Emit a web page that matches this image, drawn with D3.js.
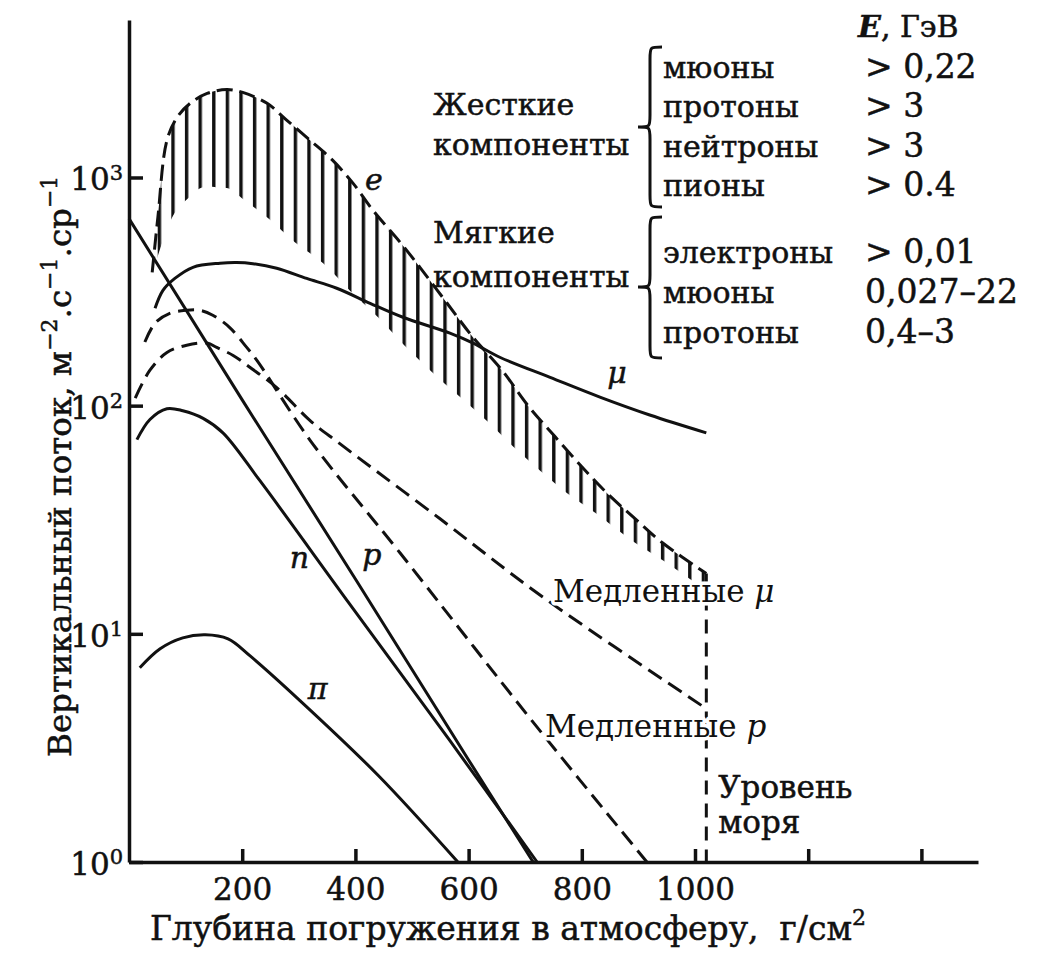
<!DOCTYPE html>
<html>
<head>
<meta charset="utf-8">
<style>
  body { margin: 0; background: #fff; }
  svg { display: block; font-family: 'DejaVu Serif', serif; }
  .axis path, .axis line { stroke: #111; stroke-width: 3.5; }
  .axis .tick text { font-size: 31px; fill: #111; font-family: 'DejaVu Serif', serif; stroke: #111; stroke-width: 0.5; }
  .curve { fill: none; stroke: #111; stroke-width: 3; }
  .dashed { stroke-dasharray: 16 8; }
  .txt { font-size: 30px; fill: #111; stroke: #111; stroke-width: 0.5; }
  .num { font-size: 33px; }
  .halo { paint-order: stroke; stroke: #fff; stroke-width: 7px; stroke-linejoin: round; }
</style>
</head>
<body>
<svg width="1047" height="956"></svg>
<script src="https://cdn.jsdelivr.net/npm/d3@7/dist/d3.min.js"></script>
<script>
// depth in g/cm^2, vertical flux in m^-2 s^-1 sr^-1
const xTicks = [200, 400, 600, 800, 1000, 1200, 1400];
const xTickLabels = ["200", "400", "600", "800", "1000", "", ""];
const yTicks = [1, 10, 100, 1000];
const yTickExp = ["0", "1", "2", "3"];

const seaLevel = 1020;

// electrons: upper (dashed) edge and lower edge of the hatched band
const eUpper = [[41, 384], [51, 668], [67, 1455], [85, 1833], [108, 2113], [138, 2335], [173, 2430],
  [201, 2360], [244, 2113], [279, 1780], [320, 1455], [360, 1188], [396, 942], [431, 718], [479, 520],
  [514, 404], [562, 281], [608, 199], [659, 143], [705, 100], [753, 73], [800, 54], [846, 41],
  [894, 32], [943, 25], [1020, 18.4]];
const eLower = [[42, 384], [78, 682], [104, 809], [129, 905], [155, 905], [175, 896], [200, 809],
  [246, 662], [293, 520], [343, 421], [390, 320], [440, 244], [488, 182], [537, 139], [585, 109],
  [634, 85], [682, 65], [730, 51], [776, 41], [823, 34], [885, 26], [943, 21], [1020, 15.5]];

const muons = [[46, 267], [60, 320], [81, 361], [113, 404], [161, 421], [190, 424], [219, 419],
  [261, 400], [314, 361], [367, 327], [426, 281], [484, 244], [567, 208], [608, 188], [655, 163],
  [744, 133], [832, 109], [920, 91], [1020, 76]];
const protons = [[0, 660], [200, 106], [400, 17.4], [600, 2.8], [714, 1]];
const neutrons = [[14, 71], [37, 87], [67, 97], [95, 95], [131, 88], [166, 76], [231, 47],
  [390, 13.5], [567, 3.4], [721, 1]];
const pions = [[19, 7.1], [55, 8.6], [95, 9.6], [135, 9.9], [175, 9.5], [214, 8.0], [302, 5.1],
  [440, 2.4], [581, 1]];
const slowMu = [[11, 108], [37, 143], [67, 171], [102, 184], [138, 188], [155, 180], [184, 166],
  [214, 147], [261, 120], [320, 86], [373, 68], [549, 32], [731, 14.5], [1020, 4.7]];
const slowP = [[28, 190], [46, 230], [72, 254], [102, 262], [125, 262], [148, 249], [178, 220],
  [208, 180], [226, 158], [320, 70.5], [479, 22.6], [721, 3.9], [915, 1]];

const hardNames = ["мюоны", "протоны", "нейтроны", "пионы"];
const hardE = ["> 0,22", "> 3", "> 3", "> 0.4"];
const softNames = ["электроны", "мюоны", "протоны"];
const softE = ["> 0,01", "0,027–22", "0,4–3"];

const svg = d3.select("svg");

const x = d3.scaleLinear().domain([0, 1500]).range([129, 978]);
const y = d3.scaleLog().domain([1, 4900]).range([862, 20]);

const smooth = d3.curveCatmullRom.alpha(0.5);

// hatch pattern + mask for the electron band
const defs = svg.append("defs");
defs.append("pattern")
    .attr("id", "hatch")
    .attr("patternUnits", "userSpaceOnUse")
    .attr("x", 171.3).attr("y", 0)
    .attr("width", 13.6).attr("height", 20)
  .append("rect")
    .attr("width", 3.4).attr("height", 20)
    .attr("fill", "#111");

const areaDown = d3.area()
    .x(d => x(d[0]))
    .y0(900)
    .y1(d => y(d[1]))
    .curve(smooth);

const mask = defs.append("mask").attr("id", "band");
mask.append("path").attr("d", areaDown(eUpper)).attr("fill", "#fff");
mask.append("path").attr("d", areaDown(eLower)).attr("fill", "#000");

svg.append("rect")
    .attr("x", x(0)).attr("y", 0)
    .attr("width", x(seaLevel) - x(0) + 2).attr("height", 900)
    .attr("fill", "url(#hatch)")
    .attr("mask", "url(#band)");

const line = d3.line()
    .x(d => x(d[0]))
    .y(d => y(d[1]))
    .curve(smooth);
const straight = d3.line()
    .x(d => x(d[0]))
    .y(d => y(d[1]));

svg.append("path").attr("class", "curve").attr("d", line(eUpper)).style("stroke-dasharray", "16 7");
svg.append("path").attr("class", "curve").attr("d", line(muons));
svg.append("path").attr("class", "curve").attr("d", straight(protons));
svg.append("path").attr("class", "curve").attr("d", line(neutrons));
svg.append("path").attr("class", "curve").attr("d", line(pions));
svg.append("path").attr("class", "curve dashed").attr("d", line(slowMu));
svg.append("path").attr("class", "curve dashed").attr("d", line(slowP));

// sea level
svg.append("line")
    .attr("class", "curve")
    .attr("x1", x(seaLevel)).attr("x2", x(seaLevel))
    .attr("y1", y(eUpper[eUpper.length - 1][1])).attr("y2", y(1))
    .style("stroke-dasharray", "14 9");

// axes
svg.append("g")
    .attr("class", "axis")
    .attr("transform", `translate(0,${y(1)})`)
    .call(d3.axisBottom(x).tickValues(xTicks).tickSize(-13).tickSizeOuter(0).tickPadding(16)
        .tickFormat((d, i) => xTickLabels[i]));

const yAxis = svg.append("g")
    .attr("class", "axis")
    .attr("transform", `translate(${x(0)},0)`)
    .call(d3.axisLeft(y).tickValues(yTicks).tickSize(-14).tickSizeOuter(0).tickPadding(6)
        .tickFormat(() => "10"));

yAxis.selectAll(".tick text")
    .attr("dy", "0.4em")
    .each(function (d, i) {
        d3.select(this).append("tspan")
            .attr("dy", "-0.5em")
            .attr("font-size", "21px")
            .text(yTickExp[i]);
    });

// axis titles
const xTitle = svg.append("text")
    .attr("class", "txt")
    .attr("x", 150).attr("y", 940)
    .style("font-size", "33px");
xTitle.append("tspan").text("Глубина погружения в атмосферу,\u00a0\u00a0г/см");
xTitle.append("tspan").attr("dy", -15).attr("font-size", "22px").text("2");

const yTitle = svg.append("text")
    .attr("class", "txt")
    .attr("transform", "translate(71,757) rotate(-90)")
    .style("font-size", "32.5px");
yTitle.append("tspan").text("Вертикальный поток, м");
yTitle.append("tspan").attr("dy", -14).attr("font-size", "22px").text("−2");
yTitle.append("tspan").attr("dy", 14).text(".с");
yTitle.append("tspan").attr("dy", -14).attr("font-size", "22px").text("−1");
yTitle.append("tspan").attr("dy", 14).text(".ср");
yTitle.append("tspan").attr("dy", -14).attr("font-size", "22px").text("−1");

// curve labels
function label(d, v, parts, cls) {
    const t = svg.append("text")
        .attr("class", "txt " + (cls || ""))
        .attr("x", x(d)).attr("y", y(v));
    parts.forEach(p => t.append("tspan").attr("font-style", p[1] ? "italic" : null).text(p[0]));
    return t;
}
label(417, 877, [["e", 1]]);
label(845, 126, [["μ", 1]]);
label(284, 19.4, [["n", 1]]);
label(412, 20, [["p", 1]]);
label(316, 5.2, [["π", 1]]);
label(749, 13.8, [["Медленные ", 0], ["μ", 1]], "halo").style("font-size", "31px");
label(735, 3.53, [["Медленные ", 0], ["p", 1]], "halo").style("font-size", "31px");
label(1041, 1.91, [["Уровень", 0]]).style("font-size", "31px");
label(1041, 1.34, [["моря", 0]]).style("font-size", "31px");

// legend
const legend = svg.append("g");
const head = legend.append("text").attr("class", "txt").attr("x", 858).attr("y", 37);
head.append("tspan").attr("font-style", "italic").attr("font-weight", "bold").text("E");
head.append("tspan").text(", ГэВ");

legend.append("text").attr("class", "txt").attr("x", 433).attr("y", 115).text("Жесткие");
legend.append("text").attr("class", "txt").attr("x", 433).attr("y", 155).text("компоненты");
legend.append("text").attr("class", "txt").attr("x", 433).attr("y", 243).text("Мягкие");
legend.append("text").attr("class", "txt").attr("x", 433).attr("y", 287).text("компоненты");

legend.selectAll(".hn").data(hardNames).join("text")
    .attr("class", "txt hn").attr("x", 663).attr("y", (d, i) => 78 + i * 39.3).text(d => d);
legend.selectAll(".he").data(hardE).join("text")
    .attr("class", "txt num he").attr("x", 865).attr("y", (d, i) => 78 + i * 39.3).text(d => d);
legend.selectAll(".sn").data(softNames).join("text")
    .attr("class", "txt sn").attr("x", 663).attr("y", (d, i) => 263 + i * 40).text(d => d);
legend.selectAll(".se").data(softE).join("text")
    .attr("class", "txt num se").attr("x", 865).attr("y", (d, i) => 263 + i * 40).text(d => d);

function brace(xl, y0, y1, ym) {
    const xr = xl + 24, xm = xl + 12, q = 12;
    return `M${xr},${y0} C${xm},${y0} ${xm},${y0} ${xm},${y0 + q} L${xm},${ym - q} ` +
        `C${xm},${ym} ${xm},${ym} ${xl},${ym} C${xm},${ym} ${xm},${ym} ${xm},${ym + q} ` +
        `L${xm},${y1 - q} C${xm},${y1} ${xm},${y1} ${xr},${y1}`;
}
legend.append("path").attr("class", "curve").attr("d", brace(638, 47, 207, 127));
legend.append("path").attr("class", "curve").attr("d", brace(638, 217, 358, 287));
</script>
</body>
</html>
